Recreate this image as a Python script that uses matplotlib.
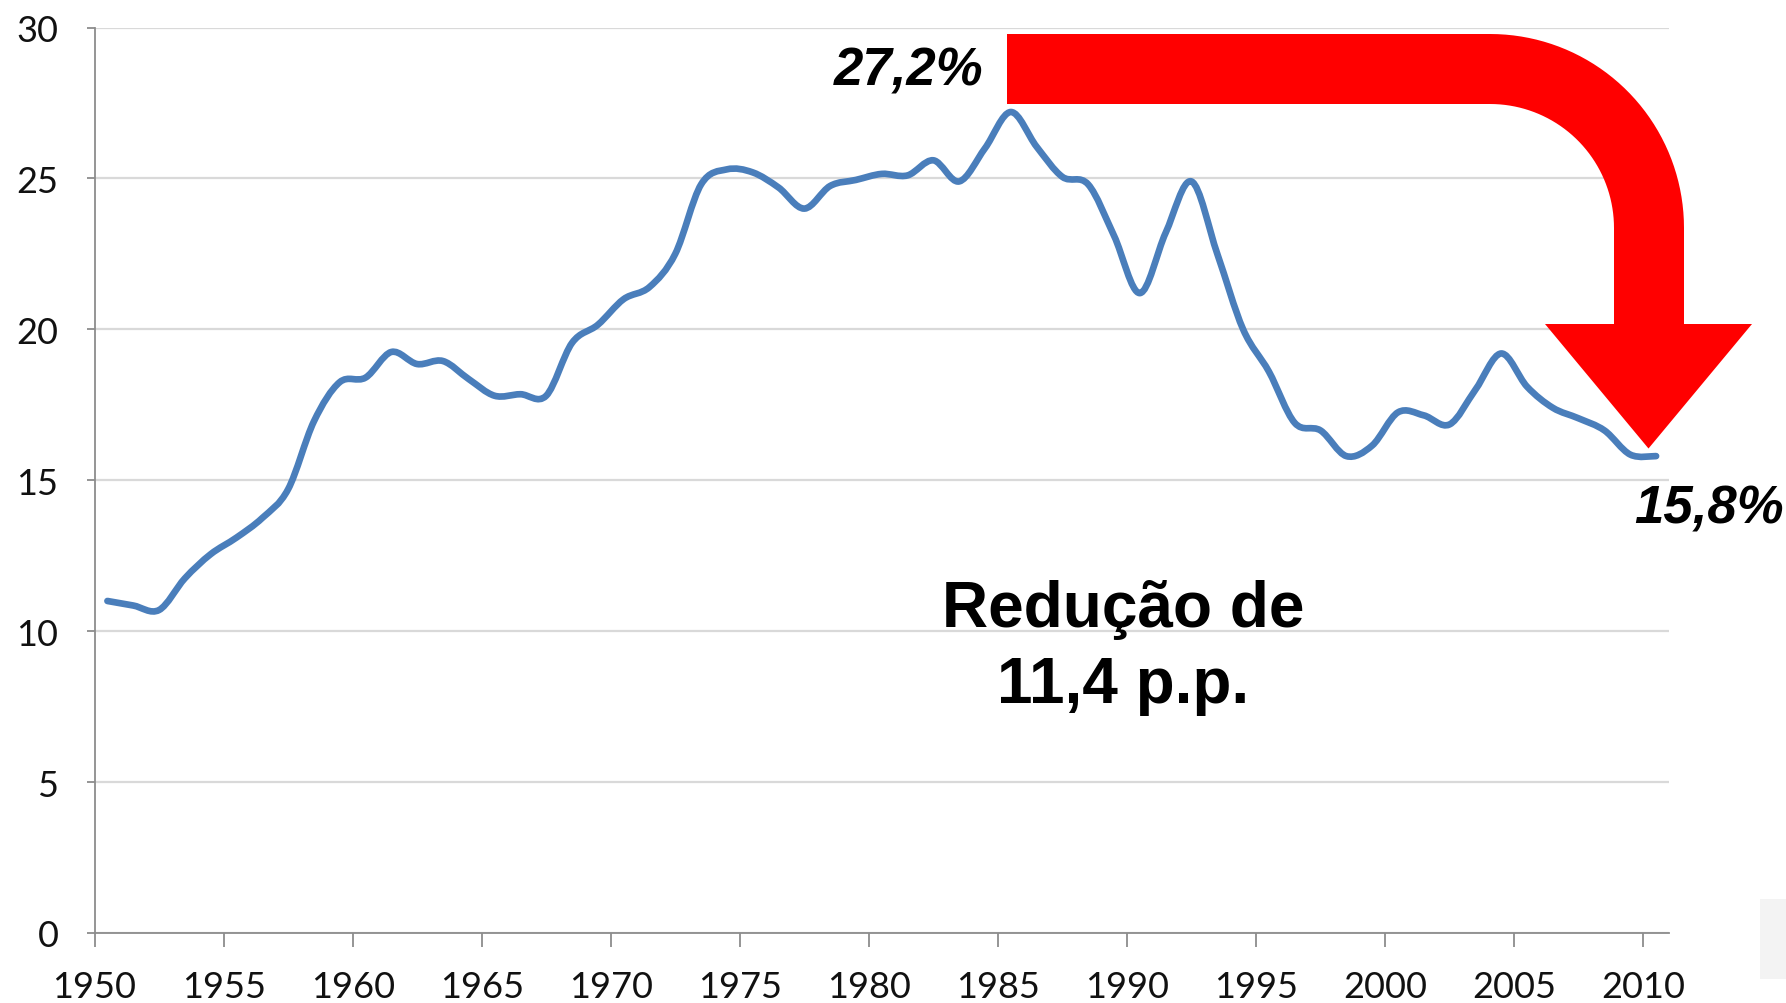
import numpy as np
import matplotlib
matplotlib.use("Agg")
import matplotlib.pyplot as plt
from matplotlib.path import Path
from matplotlib.patches import PathPatch, Rectangle
from matplotlib.transforms import Affine2D

# share of the series per year
years = list(range(1950, 2011))
values = [
    11.0, 10.85, 10.7, 11.75, 12.55, 13.1, 13.75, 14.7, 16.95, 18.25,
    18.4, 19.25, 18.85, 18.95, 18.35, 17.8, 17.85, 17.8, 19.55, 20.15,
    21.0, 21.4, 22.5, 24.8, 25.3, 25.2, 24.7, 24.0, 24.75, 24.95,
    25.15, 25.1, 25.6, 24.9, 26.0, 27.2, 26.05, 25.05, 24.8, 23.1,
    21.2, 23.2, 24.9, 22.5, 20.0, 18.6, 16.9, 16.65, 15.8, 16.15,
    17.25, 17.15, 16.85, 18.0, 19.2, 18.1, 17.4, 17.05, 16.65, 15.85,
    15.8,
]
tick_years = list(range(1950, 2011, 5))
y_ticks = list(range(0, 31, 5))

label_peak = "27,2%"
label_end = "15,8%"
label_drop = ["Redução de", "11,4 p.p."]

W, H = 1786, 1004
fig = plt.figure(figsize=(W / 100, H / 100), dpi=100)
ax = fig.add_axes([94.5 / W, 1 - 934 / H, (1669 - 94.5) / W, (934 - 28.5) / H])

# smoothed line (Excel style) built as bezier segments through the points
x = np.array(years, dtype=float) + 0.5
y = np.array(values, dtype=float)
pts = np.column_stack([x, y])
ext = np.vstack([pts[0], pts, pts[-1]])
verts = [pts[0]]
codes = [Path.MOVETO]
for i in range(len(pts) - 1):
    p0, p1, p2, p3 = ext[i], ext[i + 1], ext[i + 2], ext[i + 3]
    verts += [p1 + (p2 - p0) / 6, p2 - (p3 - p1) / 6, p2]
    codes += [Path.CURVE4] * 3
ax.add_patch(PathPatch(Path(verts, codes), fill=False, edgecolor="#4a7ebb",
                       lw=4.8, capstyle="round", joinstyle="round", zorder=3))

ax.set_xlim(1950, 2011)
ax.set_ylim(0, 30)
ax.set_xticks(tick_years)
ax.set_yticks(y_ticks)
ax.grid(axis="y", color="#d9d9d9", lw=1.6)
ax.set_axisbelow(True)
for side in ["top", "right"]:
    ax.spines[side].set_visible(False)
for side in ["left", "bottom"]:
    ax.spines[side].set_color("#8c8c8c")
    ax.spines[side].set_linewidth(1.3)
ax.tick_params(axis="x", direction="out", length=10, width=1.3, color="#8c8c8c", pad=17)
ax.tick_params(axis="y", direction="out", length=6, width=1.3, color="#8c8c8c", pad=20)
for lab in ax.get_xticklabels() + ax.get_yticklabels():
    lab.set_fontfamily("Lato")
    lab.set_fontsize(26)
    lab.set_color("#111111")

# red bent arrow, drawn in figure pixels (y downwards)
cx, cy, r_out, r_in = 1490, 229, 194, 124
t = np.linspace(0, np.pi / 2, 40)
outer = np.column_stack([cx + r_out * np.sin(t), cy - r_out * np.cos(t)])
inner = np.column_stack([cx + r_in * np.sin(t), cy - r_in * np.cos(t)])[::-1]
shape = np.vstack([
    [[1007, cy - r_out]],
    outer,
    [[cx + r_out, 325], [1752, 325], [1648.5, 449.5], [1545, 325], [cx + r_in, 325]],
    inner,
    [[1007, cy - r_in]],
    [[1007, cy - r_out]],
])
px = Affine2D().scale(1 / W, -1 / H).translate(0, 1) + fig.transFigure
fig.patches.append(PathPatch(Path(shape, closed=True), facecolor="#ff0000",
                             edgecolor="none", transform=px, zorder=5))

fig.patches.append(Rectangle((1760, 900), 26, 80, facecolor="#f3f3f3",
                             edgecolor="none", transform=px, zorder=1))

font_b = dict(family="Liberation Sans", weight="bold")
fig.text(983 / W, 1 - 72 / H, label_peak, ha="right", va="center",
         fontsize=38, style="italic", **font_b)
fig.text(1709 / W, 1 - 510 / H, label_end, ha="center", va="center",
         fontsize=38, style="italic", **font_b)
fig.text(1123 / W, 1 - 626.5 / H, label_drop[0], ha="center", va="baseline",
         fontsize=46, **font_b)
fig.text(1123 / W, 1 - 703 / H, label_drop[1], ha="center", va="baseline",
         fontsize=46, **font_b)

fig.savefig("out.png", dpi=100, facecolor="white")
